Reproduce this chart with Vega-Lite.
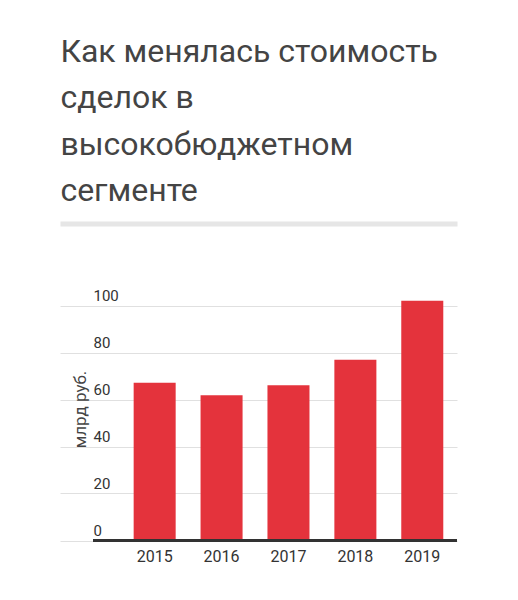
{
  "$schema": "https://vega.github.io/schema/vega-lite/v6.json",
  "padding": {"left": 60, "top": 35, "right": 0, "bottom": 0},
  "background": "#ffffff",
  "title": {
    "text": ["Как менялась стоимость", "сделок в", "высокобюджетном", "сегменте"],
    "font": "Roboto",
    "fontSize": 32,
    "fontWeight": "normal",
    "lineHeight": 46.5,
    "color": "#444444",
    "anchor": "start",
    "frame": "bounds",
    "dx": -11,
    "offset": 15.5
  },
  "config": {
    "view": {"stroke": null},
    "axis": {"labelFont": "Roboto", "titleFont": "Roboto"}
  },
  "width": 364,
  "height": 258.5,
  "data": {
    "values": [
      {"year": "2015", "value": 67.1},
      {"year": "2016", "value": 61.8},
      {"year": "2017", "value": 66.1},
      {"year": "2018", "value": 76.9},
      {"year": "2019", "value": 102.0}
    ]
  },
  "layer": [
    {
      "mark": {"type": "bar", "color": "#e4333c"},
      "encoding": {
        "x": {
          "field": "year",
          "type": "ordinal",
          "scale": {"range": [-33, 364], "paddingInner": 0.372, "paddingOuter": 0.653, "align": 0.843},
          "axis": {
            "orient": "bottom",
            "title": null,
            "domain": false,
            "ticks": false,
            "labelAngle": 0,
            "labelFontSize": 16,
            "labelColor": "#333333",
            "labelBaseline": "alphabetic",
            "labelPadding": 21
          }
        },
        "y": {
          "field": "value",
          "type": "quantitative",
          "scale": {"domain": [0, 110], "nice": false},
          "axis": {
            "values": [0, 20, 40, 60, 80, 100],
            "title": "млрд руб.",
            "titleFontSize": 17,
            "titleFontWeight": "normal",
            "titleColor": "#444444",
            "titleX": -12.6,
            "titleY": 127,
            "titleAngle": -90,
            "titleAlign": "center",
            "titleBaseline": "middle",
            "domain": false,
            "ticks": false,
            "tickSize": 0,
            "labelPadding": 0,
            "labelAlign": "left",
            "labelBaseline": "alphabetic",
            "labelOffset": -5,
            "labelFontSize": 15,
            "labelColor": "#333333",
            "gridColor": "#e0e0e0",
            "gridWidth": 1
          }
        }
      }
    },
    {
      "mark": {"type": "rule", "color": "#333333", "strokeWidth": 2.5},
      "encoding": {"y": {"datum": 0, "type": "quantitative"}}
    },
    {
      "mark": {"type": "point", "opacity": 0},
      "encoding": {
        "x": {
          "field": "year",
          "type": "ordinal",
          "axis": {
            "orient": "top",
            "title": null,
            "labels": false,
            "ticks": false,
            "domain": true,
            "domainColor": "#e6e6e6",
            "domainWidth": 5,
            "offset": 58.5
          }
        }
      }
    }
  ],
  "resolve": {"axis": {"x": "independent"}}
}
